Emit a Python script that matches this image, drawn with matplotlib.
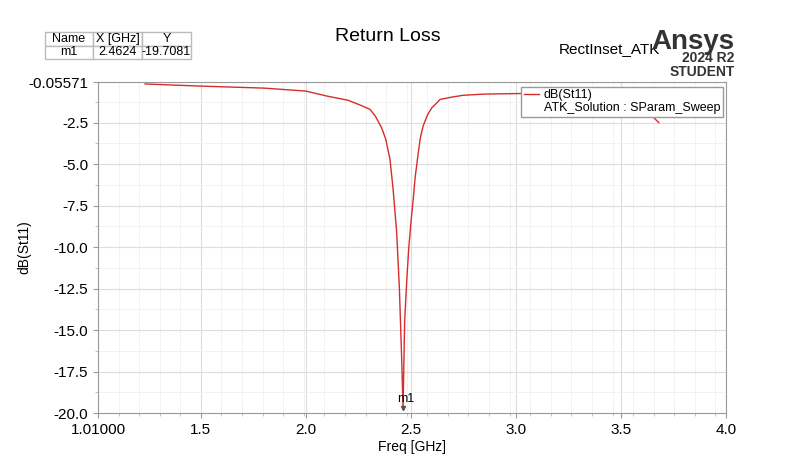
import matplotlib.pyplot as plt
from matplotlib.ticker import AutoMinorLocator
from matplotlib.lines import Line2D

plt.rcParams['font.family'] = ['Liberation Sans', 'DejaVu Sans']

freq = [1.234, 1.5, 1.8, 2.0, 2.1, 2.2, 2.26, 2.305, 2.33, 2.36, 2.38, 2.40, 2.415, 2.432,
        2.445, 2.456, 2.4624, 2.47, 2.48, 2.49, 2.50, 2.511, 2.52, 2.535, 2.545, 2.558,
        2.58, 2.60, 2.62, 2.639, 2.7, 2.75, 2.85, 3.0, 3.4, 3.5, 3.6, 3.68]
s11 = [-0.17, -0.3, -0.42, -0.6, -0.9, -1.15, -1.45, -1.7, -2.1, -2.8, -3.5, -4.7, -6.5, -9.1,
       -12.5, -16.8, -19.7081, -14.5, -12.0, -10.0, -8.5, -7.1, -5.8, -4.3, -3.4, -2.7,
       -2.0, -1.6, -1.35, -1.1, -0.95, -0.85, -0.78, -0.75, -0.7, -0.95, -1.5, -2.5]

fig = plt.figure(figsize=(8, 4.61), dpi=100)
ax = fig.add_axes([0.1225, 0.104, 0.785, 0.718])
line, = ax.plot(freq, s11, color="#d62c2c", lw=1.0)
ax.set_xlim(1.01, 4.0)
ax.set_ylim(-20.0, -0.05571)
ax.set_xticks([1.01, 1.5, 2.0, 2.5, 3.0, 3.5, 4.0])
ax.set_xticklabels(["1.01000", "1.5", "2.0", "2.5", "3.0", "3.5", "4.0"])
ax.set_yticks([-0.05571, -2.5, -5.0, -7.5, -10.0, -12.5, -15.0, -17.5, -20.0])
ax.set_yticklabels(["-0.05571", "-2.5", "-5.0", "-7.5", "-10.0", "-12.5", "-15.0", "-17.5", "-20.0"])
ax.xaxis.set_minor_locator(AutoMinorLocator(5))
ax.yaxis.set_minor_locator(AutoMinorLocator(2))
ax.grid(which="major", color="#dddddd", lw=0.8)
ax.grid(which="minor", color="#f0f0f0", lw=0.6)
for s in ax.spines.values():
    s.set_color("#999999")
ax.tick_params(labelsize=11, color="#999999")
ax.tick_params(which="minor", color="#bbbbbb")
ax.set_xlabel("Freq [GHz]", fontsize=10, labelpad=2)
ax.set_ylabel("dB(St11)", fontsize=10, labelpad=-2)
ax.annotate("m1", (2.4624, -19.7081), xytext=(2, 2), textcoords="offset points",
            ha="center", va="bottom", fontsize=9)
ax.plot([2.4624], [-19.7081], marker="v", ms=3, color="#555555")

fig.text(0.485, 0.91, "Return Loss", fontsize=14, ha="center")
fig.text(0.825, 0.885, "RectInset_ATK", fontsize=11, ha="right")
fig.text(0.918, 0.893, "Ansys", fontsize=20, weight="bold", ha="right", color="#333333")
fig.text(0.918, 0.865, "2024 R2", fontsize=10, weight="bold", ha="right", color="#333333")
fig.text(0.918, 0.835, "STUDENT", fontsize=10, weight="bold", ha="right", color="#333333")

tbl = ax.table(cellText=[["Name", "X [GHz]", "Y"], ["m1", "2.4624", "-19.7081"]],
               cellLoc="center", bbox=[-0.085, 1.07, 0.233, 0.08])
tbl.auto_set_font_size(False)
tbl.set_fontsize(9)
for c in tbl.get_celld().values():
    c.set_edgecolor("#bbbbbb")

blank = Line2D([], [], alpha=0)
leg = ax.legend([line, blank], ["dB(St11)", "ATK_Solution : SParam_Sweep"],
                loc="upper right", bbox_to_anchor=(1.005, 1.005), fontsize=9,
                frameon=True, fancybox=False, borderpad=0.2, handlelength=1.2,
                handletextpad=0.4, labelspacing=0.1, framealpha=1)
leg.get_frame().set_edgecolor("#999999")

fig.savefig("out.png")
